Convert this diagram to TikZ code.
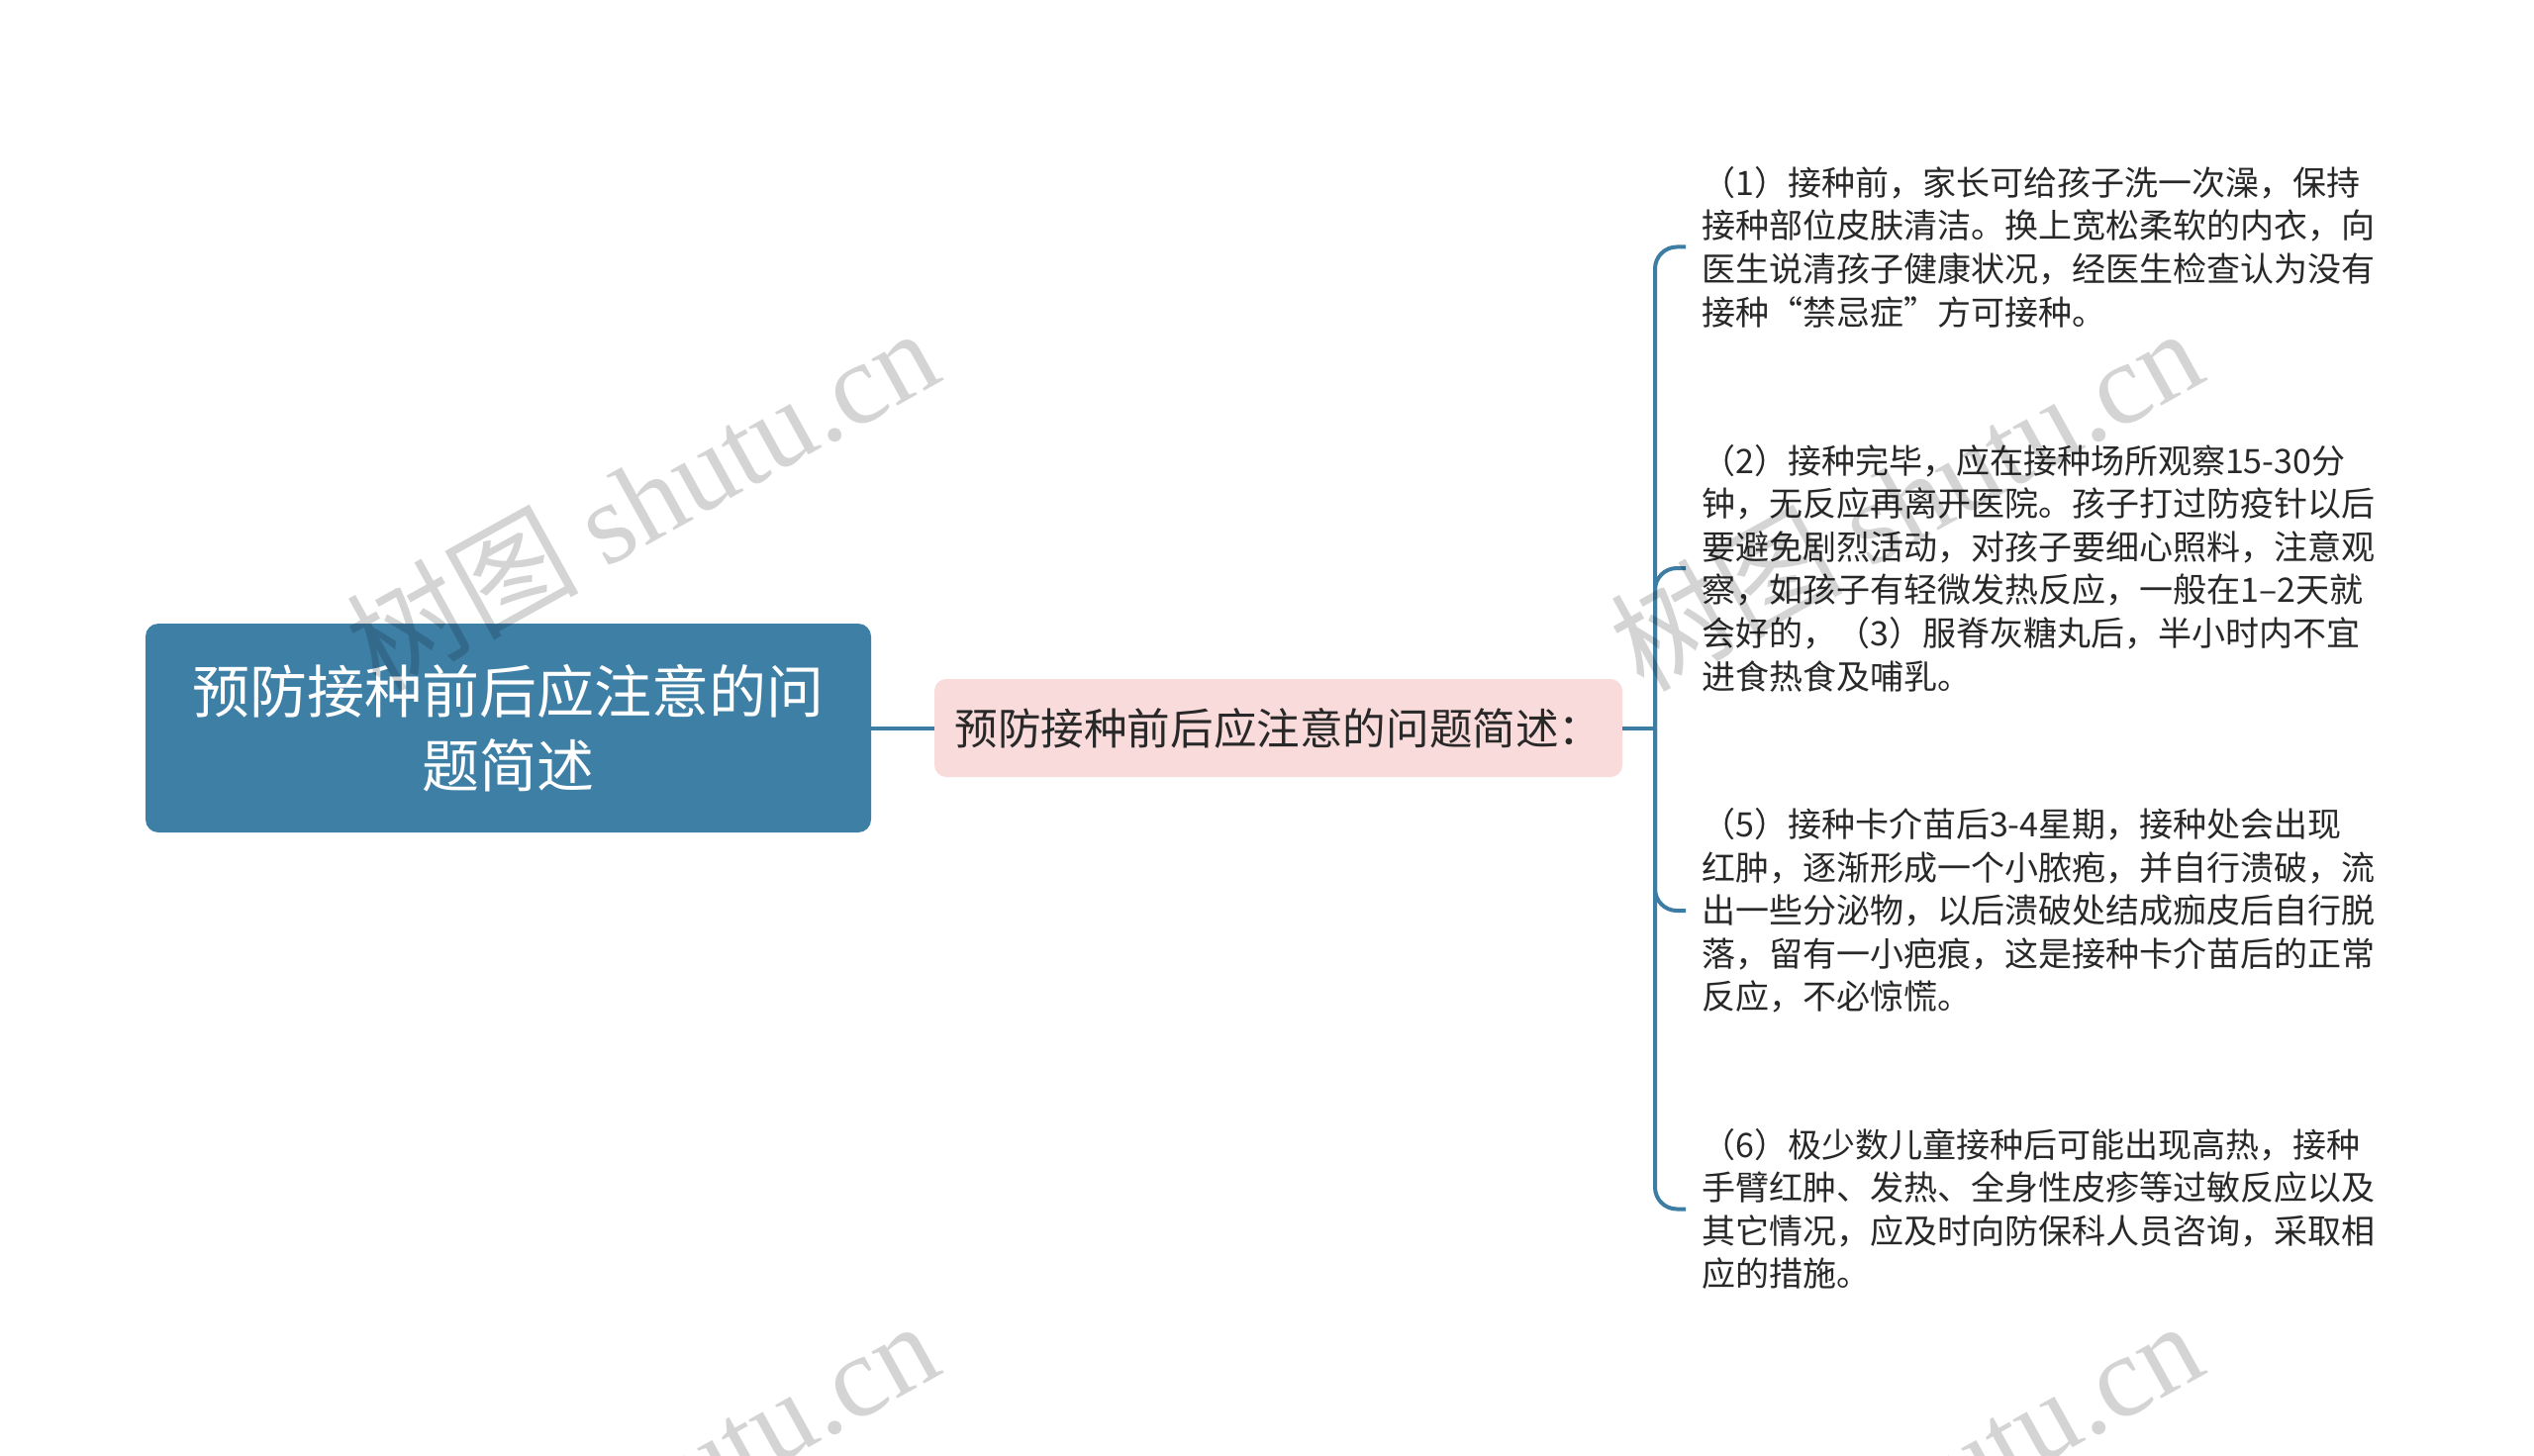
\documentclass[tikz,border=0pt]{standalone}
\usepackage{fontspec}
\setmainfont{Noto Sans CJK SC}
\newfontfamily\wmserif{Liberation Serif}
\definecolor{rootblue}{RGB}{62,127,166}
\definecolor{linkblue}{RGB}{62,125,163}
\definecolor{pinkfill}{RGB}{250,219,219}
\definecolor{txtdark}{RGB}{40,40,40}
\tikzset{
  rootbox/.style={fill=rootblue, rounded corners=13pt, minimum width=733pt, minimum height=211pt,
    inner sep=0pt, text=white, align=center, font=\fontsize{58}{75}\selectfont},
  midbox/.style={fill=pinkfill, rounded corners=12pt, minimum width=695pt, minimum height=99pt,
    inner sep=0pt, text=txtdark, font=\fontsize{43.6}{50}\selectfont},
  leaf/.style={anchor=west, text width=700pt, align=left, inner xsep=16pt, inner ysep=0pt,
    text=txtdark, font=\fontsize{34}{43.6}\selectfont},
  link/.style={draw=linkblue, line width=4pt},
  wmark/.style={rotate=29, text=black, text opacity=0.17, font=\fontsize{117}{130}\selectfont}
}
\begin{document}
\begin{tikzpicture}[x=1pt,y=-1pt]
\useasboundingbox (0,0) rectangle (2560,1471);
\fill[white] (0,0) rectangle (2560,1471);

\node[rootbox] (root) at (513.5,735.5) {预防接种前后应注意的问\\题简述};
\node[midbox] (mid) at (1291.5,735.5) {预防接种前后应注意的问题简述：};
\coordinate (trunk) at (1672,735.5);

\node[leaf] (b1) at (1703,249.5) {（1）接种前，家长可给孩子洗一次澡，保持\\接种部位皮肤清洁。换上宽松柔软的内衣，向\\医生说清孩子健康状况，经医生检查认为没有\\接种“禁忌症”方可接种。};
\node[leaf] (b2) at (1703,574) {（2）接种完毕，应在接种场所观察15-30分\\钟，无反应再离开医院。孩子打过防疫针以后\\要避免剧烈活动，对孩子要细心照料，注意观\\察，如孩子有轻微发热反应，一般在1–2天就\\会好的，（3）服脊灰糖丸后，半小时内不宜\\进食热食及哺乳。};
\node[leaf] (b3) at (1703,920) {（5）接种卡介苗后3-4星期，接种处会出现\\红肿，逐渐形成一个小脓疱，并自行溃破，流\\出一些分泌物，以后溃破处结成痂皮后自行脱\\落，留有一小疤痕，这是接种卡介苗后的正常\\反应，不必惊慌。};
\node[leaf] (b4) at (1703,1221.5) {（6）极少数儿童接种后可能出现高热，接种\\手臂红肿、发热、全身性皮疹等过敏反应以及\\其它情况，应及时向防保科人员咨询，采取相\\应的措施。};

\draw[link] (root.east) -- (mid.west);
\draw[link] (mid.east) -- (trunk);
\draw[link, rounded corners=22pt] (trunk) |- (b1.west);
\draw[link, rounded corners=22pt] (trunk) |- (b2.west);
\draw[link, rounded corners=22pt] (trunk) |- (b3.west);
\draw[link, rounded corners=22pt] (trunk) |- (b4.west);

\node[wmark] (wm1) at (648,503) {树图 {\wmserif shutu.cn}};
\node[wmark] (wm2) at (1925,503) {树图 {\wmserif shutu.cn}};
\node[wmark] (wm3) at (648,1506) {树图 {\wmserif shutu.cn}};
\node[wmark] (wm4) at (1925,1506) {树图 {\wmserif shutu.cn}};
\end{tikzpicture}
\end{document}
